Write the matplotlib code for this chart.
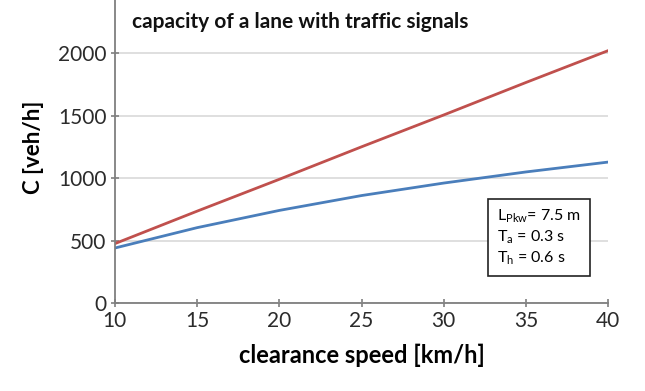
import numpy as np
import matplotlib.pyplot as plt

plt.rcParams['font.family'] = ['Lato', 'DejaVu Sans']
plt.rcParams['mathtext.fontset'] = 'custom'
plt.rcParams['mathtext.rm'] = 'Lato'

# clearance speed [km/h]
speed = [10, 15, 20, 25, 30, 35, 40]
# capacity [veh/h]
cap_red = [475, 735, 990, 1250, 1505, 1765, 2020]
cap_blue = [440, 603, 741, 860, 960, 1049, 1128]

yticks = [0, 500, 1000, 1500, 2000, 2500]
xticks = [10, 15, 20, 25, 30, 35, 40]

fig = plt.figure(figsize=(6.45, 3.91), dpi=100)
ax = fig.add_axes([0.178, 0.225, 0.765, 0.799])

ax.plot(speed, cap_red, color='#C0504D', lw=2)
ax.plot(speed, cap_blue, color='#4A7EBB', lw=2)

ax.set_xlim(10, 40)
ax.set_ylim(0, 2500)
ax.set_xticks(xticks)
ax.set_yticks(yticks)
ax.yaxis.grid(True, color='#d9d9d9', lw=1.2)
ax.set_axisbelow(True)
for s in ['top', 'right']:
    ax.spines[s].set_visible(False)
for s in ['left', 'bottom']:
    ax.spines[s].set_color('#7f7f7f')
    ax.spines[s].set_linewidth(1.3)
ax.tick_params(direction='inout', length=6, width=1.2, color='#7f7f7f',
               labelsize=15, labelcolor='#2b2b2b', pad=3)

ax.set_xlabel('clearance speed [km/h]', fontsize=17, fontweight='bold', labelpad=9)
ax.set_ylabel('C [veh/h]', fontsize=16, fontweight='bold', labelpad=10)

fig.text(0.205, 0.944, 'capacity of a lane with traffic signals', fontsize=15,
         fontweight='bold', va='center', color='#111111')

ax.text(0.775, 0.21,
        '$\\mathregular{L_{Pkw}}$= 7.5 m\n$\\mathregular{T_a}$ = 0.3 s\n$\\mathregular{T_h}$ = 0.6 s',
        transform=ax.transAxes, fontsize=11.5, va='center', ha='left', linespacing=1.3,
        bbox=dict(boxstyle='square,pad=0.55', fc='white', ec='#222222', lw=1.2))

fig.savefig('out.png', dpi=100, facecolor='white')
